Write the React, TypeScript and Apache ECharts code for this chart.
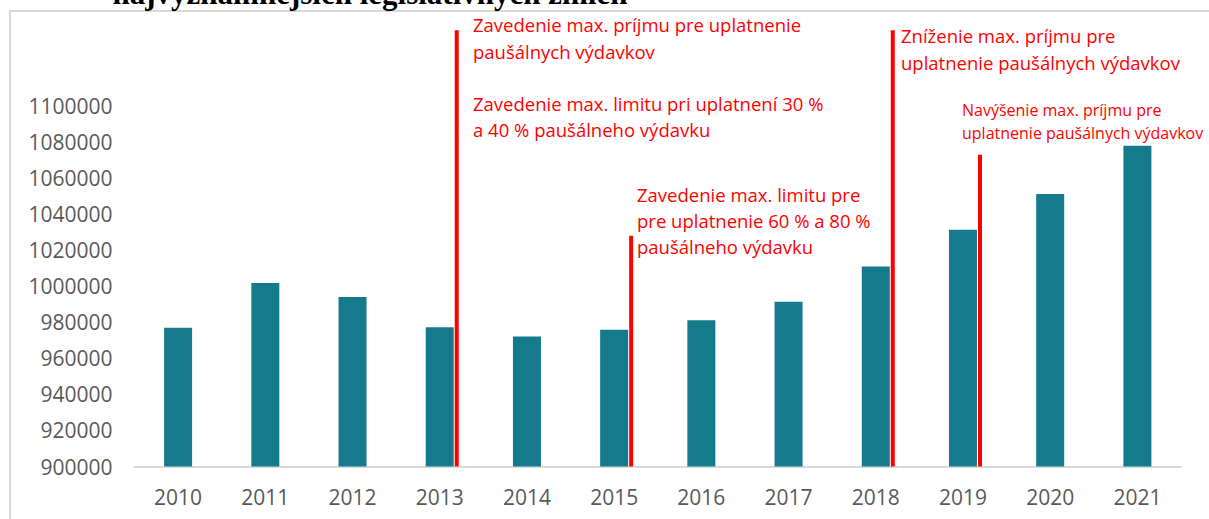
import React, { useEffect, useRef } from "react";
import * as echarts from "echarts";

const years = ["2010", "2011", "2012", "2013", "2014", "2015", "2016", "2017", "2018", "2019", "2020", "2021"];
const values = [977000, 1001800, 994000, 977300, 972100, 975800, 981200, 991400, 1011000, 1031400, 1051200, 1078000];
// legislative change markers: [category index, top value of the red line]
const markerIdx = [3, 5, 8, 9];
const markerTop = [1142000, 1028000, 1142000, 1073000];

const yMin = 900000;
const yMax = 1100000;
const yStep = 20000;

const titleText = "najvýznamnejších legislatívnych zmien";
const notes1 = ["Zavedenie max. príjmu pre uplatnenie", "paušálnych výdavkov"];
const notes2 = ["Zavedenie max. limitu pri uplatnení 30 %", "a 40 % paušálneho výdavku"];
const notes3 = ["Zavedenie max. limitu pre", "pre uplatnenie 60 % a 80 %", "paušálneho výdavku"];
const notes4 = ["Zníženie max. príjmu pre", "uplatnenie paušálnych výdavkov"];
const notes5 = ["Navýšenie max. príjmu pre", "uplatnenie paušálnych výdavkov"];

const FONT = "'Open Sans', 'Noto Sans', sans-serif";
const RED = "#ff0000";

export default function App() {
  const ref = useRef<HTMLDivElement>(null);
  useEffect(() => {
    if (!ref.current) return;
    const chart = echarts.init(ref.current, undefined, { renderer: "svg" });
    const noteText = (lines: string[], x: number, y: number, size: number, lh: number) => ({
      type: "text",
      left: x,
      top: y,
      style: {
        text: lines.join("\n"),
        fill: RED,
        font: `${size}px ${FONT}`,
        lineHeight: lh,
      },
    });
    chart.setOption({
      animation: false,
      grid: { left: 134.5, right: 28, top: 106, bottom: 52.5 },
      xAxis: {
        type: "category",
        data: years,
        axisLine: { lineStyle: { color: "#d9d9d9", width: 2 } },
        axisTick: { show: false },
        axisLabel: { color: "#595959", fontSize: 21, fontFamily: FONT, margin: 20 },
      },
      yAxis: {
        type: "value",
        min: yMin,
        max: yMax,
        interval: yStep,
        axisLine: { show: false },
        axisTick: { show: false },
        splitLine: { show: false },
        axisLabel: {
          color: "#595959",
          fontSize: 21,
          fontFamily: FONT,
          margin: 22,
          formatter: (v: number) => String(v),
        },
      },
      series: [
        {
          type: "bar",
          data: values,
          barWidth: 28,
          itemStyle: { color: "#157b8c" },
        },
        {
          type: "custom",
          clip: false,
          data: markerIdx.map((i, k) => [i, markerTop[k]]),
          renderItem: (params: any, api: any) => {
            const top = api.coord([api.value(0), api.value(1)]);
            const bot = api.coord([api.value(0), yMin]);
            const x = top[0] + 17;
            return {
              type: "line",
              shape: { x1: x, y1: top[1], x2: x, y2: bot[1] },
              style: { stroke: RED, lineWidth: 4 },
            };
          },
          z: 5,
        },
      ],
      graphic: [
        {
          type: "rect",
          shape: { x: 10, y: 11, width: 1400, height: 700 },
          style: { fill: "none", stroke: "#d9d9d9", lineWidth: 2 },
          silent: true,
        },
        {
          type: "text",
          x: 370,
          y: 9,
          style: {
            text: titleText,
            fill: "#000",
            font: "bold 31px 'Liberation Serif', 'Times New Roman', serif",
            textAlign: "center",
            textVerticalAlign: "bottom",
          },
        },
        noteText(notes1, 473, 11, 18.5, 27),
        noteText(notes2, 473, 90, 18.5, 26),
        noteText(notes3, 637, 181, 18.5, 26),
        noteText(notes4, 901, 22, 18.5, 27),
        noteText(notes5, 962, 99, 16, 22.5),
      ],
    });
    return () => chart.dispose();
  }, []);
  return <div ref={ref} style={{ width: 1209, height: 519, position: "absolute", left: 0, top: 0 }} />;
}
